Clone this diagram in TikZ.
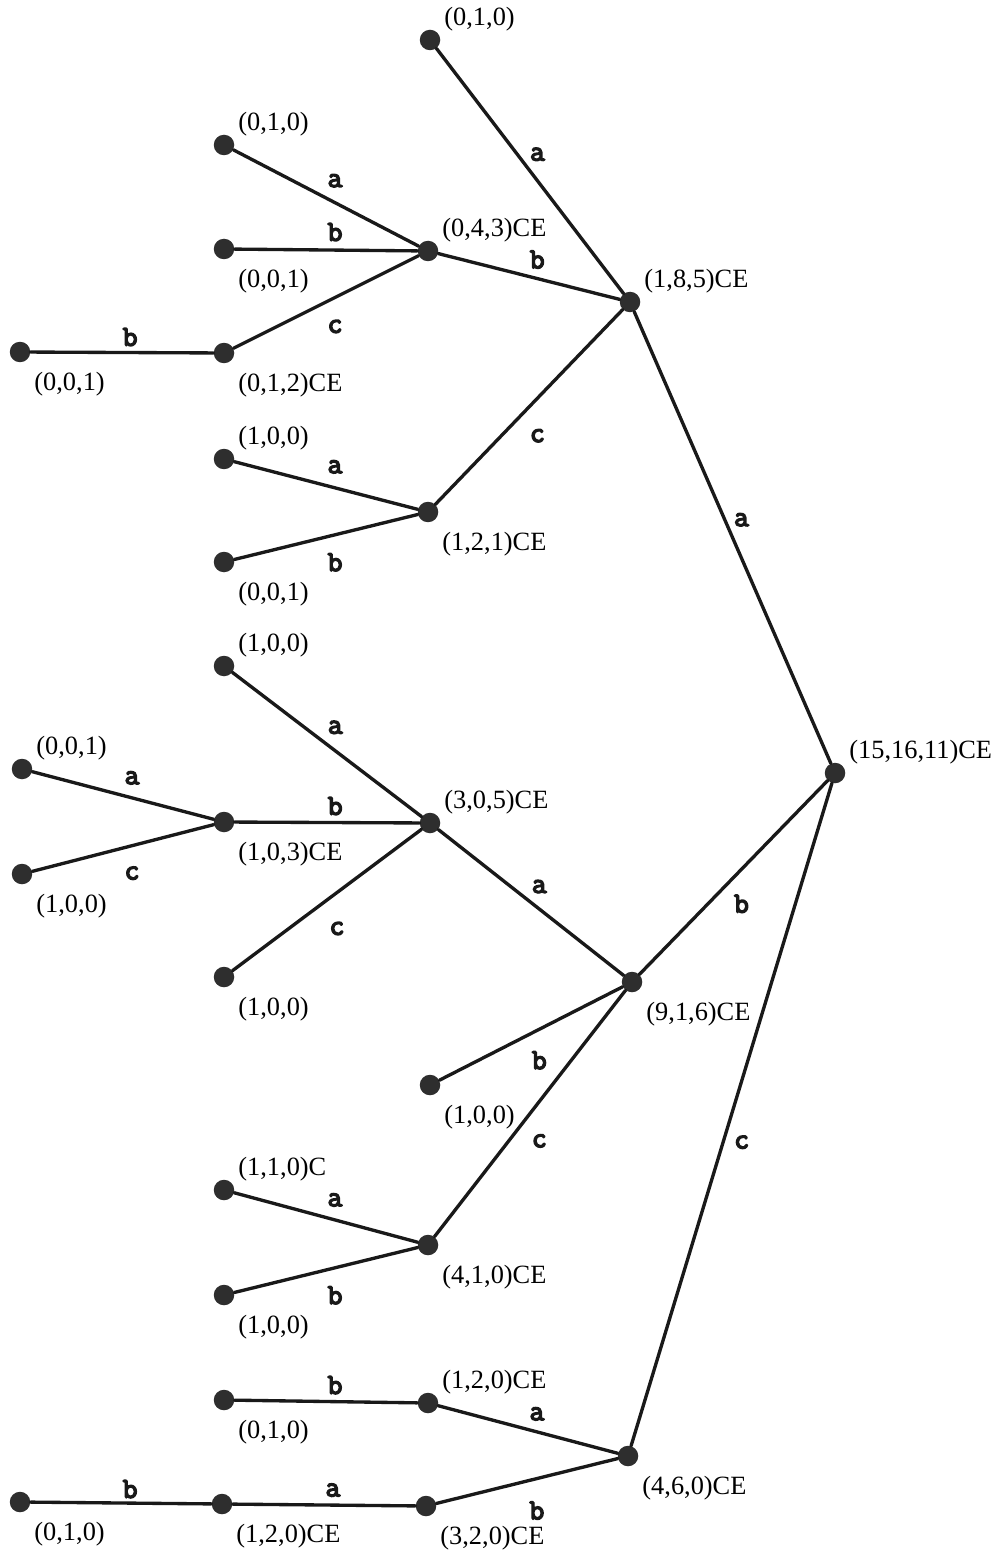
\documentclass[tikz,border=0pt]{standalone}
\usepackage{fontspec}
\setmainfont{Liberation Serif}
\newfontfamily\edgefont{Latin Modern Mono}[FakeBold=5]

\tikzset{
	dot/.style={circle, fill=black!82, inner sep=0pt, minimum size=0.41cm},
	lab/.style={font=\fontsize{15}{18}\selectfont, inner sep=0pt},
	lup/.style={label={[lab, label distance=0.07cm, yshift=0.42cm]right:#1}},
	ldn/.style={label={[lab, label distance=0.07cm, yshift=-0.65cm]right:#1}},
	elab/.style={font=\edgefont\fontsize{16.5}{18}\selectfont, inner sep=0pt},
	branch/.style={line width=1.9pt, black!90}
}

\begin{document}
\begin{tikzpicture}[x=0.02cm, y=-0.02cm, line cap=round, line join=round]
		\useasboundingbox (0,0) rectangle (999,1557);
		
		% root and its three children
		\node[dot, lup={(15,16,11)CE}] (n151611) at (835,773) {};
		\node[dot, lup={(1,8,5)CE}] (n185) at (630,302) {};
		\node[dot, ldn={(9,1,6)CE}] (n916) at (632,982) {};
		\node[dot, ldn={(4,6,0)CE}] (n460) at (628,1456) {};
		
		% upper subtree
		\node[dot, lup={(0,1,0)}] (l010a) at (430,40) {};
		\node[dot, lup={(0,4,3)CE}] (n043) at (428,251) {};
		\node[dot, ldn={(1,2,1)CE}] (n121) at (428,512) {};
		\node[dot, lup={(0,1,0)}] (l010b) at (224,145) {};
		\node[dot, ldn={(0,0,1)}] (l001a) at (224,249) {};
		\node[dot, ldn={(0,1,2)CE}] (n012) at (224,353) {};
		\node[dot, ldn={(0,0,1)}] (l001b) at (20,352) {};
		\node[dot, lup={(1,0,0)}] (l100a) at (224,459) {};
		\node[dot, ldn={(0,0,1)}] (l001c) at (224,562) {};
		
		% middle subtree
		\node[dot, lup={(3,0,5)CE}] (n305) at (430,823) {};
		\node[dot, ldn={(1,0,0)}] (l100e) at (430,1085) {};
		\node[dot, ldn={(4,1,0)CE}] (n410) at (428,1245) {};
		\node[dot, lup={(1,0,0)}] (l100b) at (224,666) {};
		\node[dot, ldn={(1,0,3)CE}] (n103) at (224,822) {};
		\node[dot, ldn={(1,0,0)}] (l100d) at (224,977) {};
		\node[dot, lup={(0,0,1)}] (l001d) at (22,769) {};
		\node[dot, ldn={(1,0,0)}] (l100c) at (22,874) {};
		\node[dot, lup={(1,1,0)C}] (c110) at (224,1190) {};
		\node[dot, ldn={(1,0,0)}] (l100f) at (224,1295) {};
		
		% lower subtree
		\node[dot, lup={(1,2,0)CE}] (n120a) at (428,1403) {};
		\node[dot, ldn={(3,2,0)CE}] (n320) at (426,1506) {};
		\node[dot, ldn={(0,1,0)}] (l010c) at (224,1400) {};
		\node[dot, ldn={(1,2,0)CE}] (n120b) at (222,1504) {};
		\node[dot, ldn={(0,1,0)}] (l010d) at (20,1502) {};
		
		% branches
		\draw[branch] (n185) -- node[elab, pos=.546, yshift=.77cm] {a} (n151611);
		\draw[branch] (n916) -- node[elab, pos=.542, yshift=-.69cm] {b} (n151611);
		\draw[branch] (n460) -- node[elab, pos=.551, yshift=-1.23cm] {c} (n151611);
		
		\draw[branch] (l010a) -- node[elab, pos=.54, yshift=.53cm] {a} (n185);
		\draw[branch] (n043) -- node[elab, pos=.545, yshift=.38cm] {b} (n185);
		\draw[branch] (n121) -- node[elab, pos=.545, yshift=-.75cm] {c} (n185);
		\draw[branch] (l010b) -- node[elab, pos=.549, yshift=.44cm] {a} (n043);
		\draw[branch] (l001a) -- node[elab, pos=.549, yshift=.36cm] {b} (n043);
		\draw[branch] (n012) -- node[elab, pos=.549, yshift=-.58cm] {c} (n043);
		\draw[branch] (l001b) -- node[elab, pos=.544, yshift=.31cm] {b} (n012);
		\draw[branch] (l100a) -- node[elab, pos=.549, yshift=.42cm] {a} (n121);
		\draw[branch] (l001c) -- node[elab, pos=.549, yshift=-.55cm] {b} (n121);
		
		\draw[branch] (n305) -- node[elab, pos=.545, yshift=.45cm] {a} (n916);
		\draw[branch] (l100e) -- node[elab, pos=.545, yshift=-.62cm] {b} (n916);
		\draw[branch] (n410) -- node[elab, pos=.549, yshift=-.79cm] {c} (n916);
		\draw[branch] (l100b) -- node[elab, pos=.544, yshift=.47cm] {a} (n305);
		\draw[branch] (n103) -- node[elab, pos=.544, yshift=.33cm] {b} (n305);
		\draw[branch] (l100d) -- node[elab, pos=.553, yshift=-.72cm] {c} (n305);
		\draw[branch] (l001d) -- node[elab, pos=.55, yshift=.40cm] {a} (n103);
		\draw[branch] (l100c) -- node[elab, pos=.55, yshift=-.55cm] {c} (n103);
		\draw[branch] (c110) -- node[elab, pos=.549, yshift=.40cm] {a} (n410);
		\draw[branch] (l100f) -- node[elab, pos=.549, yshift=-.55cm] {b} (n410);
		
		\draw[branch] (n120a) -- node[elab, pos=.55, yshift=.36cm] {a} (n460);
		\draw[branch] (n320) -- node[elab, pos=.554, yshift=-.64cm] {b} (n460);
		\draw[branch] (l010c) -- node[elab, pos=.549, yshift=.33cm] {b} (n120a);
		\draw[branch] (n120b) -- node[elab, pos=.549, yshift=.30cm] {a} (n320);
		\draw[branch] (l010d) -- node[elab, pos=.55, yshift=.28cm] {b} (n120b);
		
	\end{tikzpicture}
\end{document}
